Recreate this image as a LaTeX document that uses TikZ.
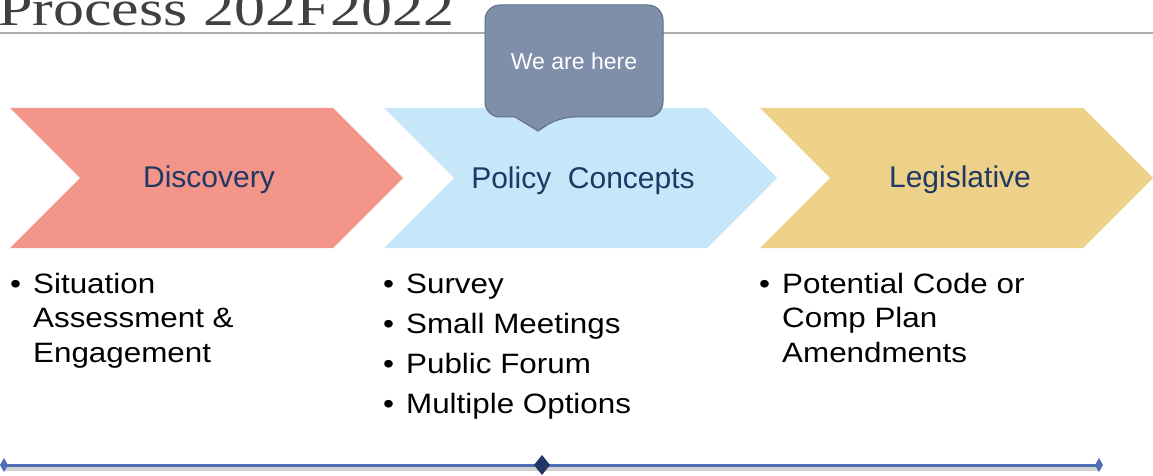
\documentclass[tikz,border=0pt]{standalone}
\usepackage{fontspec}
\setmainfont{Liberation Sans}
\newfontfamily\bodyfont[FakeStretch=1.12]{Liberation Sans}
\newfontfamily\titlefont[FakeStretch=1.24]{Liberation Serif}
\definecolor{salmon}{HTML}{F4958A}
\definecolor{skyb}{HTML}{C6E7F9}
\definecolor{gold}{HTML}{EDD188}
\definecolor{navy}{HTML}{1F3864}
\definecolor{calloutfill}{HTML}{7F8FA9}
\definecolor{calloutedge}{HTML}{5E6E88}
\definecolor{lineblue}{HTML}{4F6EB5}
\definecolor{titlegray}{HTML}{404040}
\tikzset{
  phaselabel/.style={anchor=base, text=navy, font=\fontsize{30}{36}\selectfont, inner sep=0pt},
  bulletlist/.style={anchor=base west, align=left, inner sep=0pt, text=black, font=\bodyfont\fontsize{28}{34.8}\selectfont},
}
\newcommand{\chev}[2]{\fill[#2] (#1,108) -- ++(323,0) -- ++(70,70) -- ++(-70,70) -- ++(-323,0) -- ++(70,-70) -- cycle;}
\newcommand{\bul}{\llap{\textbullet\hspace{12pt}}}
\begin{document}
\begin{tikzpicture}[x=1pt,y=-1pt]
\useasboundingbox (0,0) rectangle (1153,476);
% title
\node[anchor=base west, inner sep=0pt, text=titlegray, font=\titlefont\fontsize{50}{56}\selectfont] (title) at (-2,26) {Process 202F2022};
\draw[gray!65, line width=1.5pt] (0,33) coordinate (tl) -- (1153,33) coordinate (tr);
% chevrons
\chev{10}{salmon}
\chev{384}{skyb}
\chev{760}{gold}
\node[phaselabel] (disc) at (209,187) {Discovery};
\node[phaselabel] (policy) at (583,188) {Policy\ \ Concepts};
\node[phaselabel] (legis) at (960,187) {Legislative};
% callout
\draw[fill=calloutfill, draw=calloutedge, line width=1pt, rounded corners=15pt]
  (485,5) -- (663,5) -- (663,117) -- (559,117) [sharp corners] -- (538,131) -- (515,117) [rounded corners=15pt] -- (485,117) -- cycle;
\node[anchor=base, inner sep=0pt, text=white, font=\fontsize{23}{28}\selectfont] (here) at (574,70) {We are here};
% bullets (anchor = baseline of the last line)
\node[bulletlist] (b1) at (33,362.6) {\bul Situation\\Assessment \&\\Engagement};
\node[bulletlist] (b2) at (406,413) {\bul Survey\\[5.2pt]\bul Small Meetings\\[5.2pt]\bul Public Forum\\[5.2pt]\bul Multiple Options};
\node[bulletlist] (b3) at (782,362.6) {\bul Potential Code or\\Comp Plan\\Amendments};
% timeline
\coordinate (t0) at (4,465);
\coordinate (t1) at (542,465);
\coordinate (t2) at (1099,465);
\draw[black!18, line width=4pt] ([yshift=-4pt]t0) -- ([yshift=-4pt]t2);
\draw[lineblue, line width=3pt] (t0) -- (t2);
\fill[lineblue] ([xshift=-4pt]t0) -- ([yshift=7pt]t0) -- ([xshift=4pt]t0) -- ([yshift=-7pt]t0) -- cycle;
\fill[lineblue] ([xshift=-4pt]t2) -- ([yshift=7pt]t2) -- ([xshift=4pt]t2) -- ([yshift=-7pt]t2) -- cycle;
\fill[navy] ([xshift=-8pt]t1) -- ([yshift=10pt]t1) -- ([xshift=8pt]t1) -- ([yshift=-10pt]t1) -- cycle;
\end{tikzpicture}
\end{document}
